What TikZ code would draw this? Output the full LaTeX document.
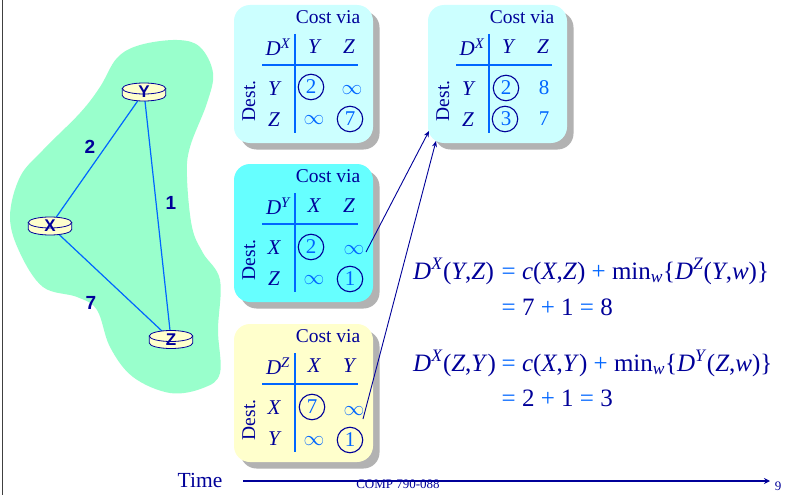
\documentclass[tikz,border=0pt]{standalone}
\usepackage{fontspec}
\setmainfont{Liberation Serif}
\newfontfamily\arialfont{Liberation Sans}
\definecolor{navy}{HTML}{000099}
\definecolor{skyb}{HTML}{0066FF}
\definecolor{cardA}{HTML}{CCFFFF}
\definecolor{cardB}{HTML}{66FFFF}
\definecolor{cardC}{HTML}{FFFFCC}
\definecolor{blobc}{HTML}{99FFCC}
\definecolor{shad}{HTML}{B2B2B2}
\tikzset{
  cardbody/.style={rounded corners=16pt,line width=0pt},
  txt/.style={inner sep=0pt,text=navy,font=\fontsize{19.5}{22}\selectfont},
  lab/.style={txt,font=\fontsize{21}{24}\selectfont\itshape},
  val/.style={inner sep=0pt,text=skyb,font=\fontsize{21}{24}\selectfont},
  rule/.style={draw=skyb,line width=1.1pt},
  ringnode/.style={circle,draw=navy,line width=1.1pt,minimum size=25.5pt,inner sep=0pt},
  routerbox/.style={inner sep=0pt,minimum width=36pt,minimum height=20pt},
  link/.style={draw=skyb,line width=1.2pt},
  rlabel/.style={inner sep=0pt,text=navy,font=\arialfont\bfseries\fontsize{17}{20}\selectfont},
  wlabel/.style={inner sep=0pt,text=navy,font=\arialfont\bfseries\fontsize{19}{22}\selectfont},
  feed/.style={draw=navy,line width=0.9pt,-{Stealth[length=6pt,width=5pt]}},
  eq/.style={inner sep=0pt,anchor=base west,text=navy,font=\fontsize{25}{28}\selectfont},
}
\usetikzlibrary{arrows.meta}
\newcommand{\costcard}[9]{%
 \begin{scope}[shift={(#2,#3)}]
  \fill[shad,cardbody] (6.5,6.5) rectangle +(139,138);
  \fill[#4,cardbody] (0,0) rectangle +(139,138);
  \node[txt] (#1via) at (94,12) {Cost via};
  \node[lab] (#1D) at (44,42) {D\textsuperscript{#5}};
  \node[lab] (#1c1) at (80,42) {#6};
  \node[lab] (#1c2) at (115,42) {#7};
  \node[lab] (#1r1) at (40,84) {#8};
  \node[lab] (#1r2) at (40,115) {#9};
  \node[txt,rotate=90] (#1dest) at (15,96) {Dest.};
  \path[rule] (61,29) -- (61,128);
  \path[rule] (28,60) -- (124,60);
 \end{scope}}
\newcommand{\cellval}[4]{\node[val] (#1) at (#2,#3) {#4};}
\newcommand{\eqD}[1]{\textit{D}\textsuperscript{\textit{#1}}}
\newcommand{\bl}[1]{\textcolor{skyb}{#1}}
\begin{document}
\begin{tikzpicture}[x=1pt,y=-1pt]
\useasboundingbox (0,0) rectangle (785,495);
\fill[white] (0,0) rectangle (785,495);
\draw[black!75,line width=1pt] (2.5,0) -- (2.5,495);
% network cloud
\fill[blobc] plot[smooth cycle,tension=0.6] coordinates {
 (177,40) (200,47) (213,73) (207,103) (190,147) (187,177) (192,227) (203,253) (220,280)
 (218,330) (220,373) (203,388) (170,393) (133,377) (110,347) (97,310) (77,297) (43,287)
 (20,253) (10,217) (20,177) (43,150) (80,113) (100,87) (117,58) (140,45)};
\node[routerbox] (X) at (50,226) {};
\node[routerbox] (Y) at (144,92) {};
\node[routerbox] (Z) at (171,339.5) {};
\path[link] (X.center) -- (Y.center);
\path[link] (Y.center) -- (Z.center);
\path[link] (X.center) -- (Z.center);
\foreach \r in {X,Y,Z}{
  \filldraw[fill=cardC,draw=navy,line width=0.8pt]
    ([xshift=-21.7pt,yshift=3.5pt]\r.center) -- ([xshift=-21.7pt,yshift=-3.5pt]\r.center)
    arc[start angle=180,end angle=360,x radius=21.7pt,y radius=5.5pt]
    -- ([xshift=21.7pt,yshift=3.5pt]\r.center) -- cycle;
  \filldraw[fill=cardC,draw=navy,line width=0.8pt] ([yshift=3.5pt]\r.center) ellipse[x radius=21.7pt,y radius=5.5pt];
}
\node[rlabel] (Xl) at (X) {X};
\node[rlabel] (Yl) at (Y) {Y};
\node[rlabel] (Zl) at (Z) {Z};
\node[wlabel] (w2) at (90,147) {2};
\node[wlabel] (w1) at (171,203) {1};
\node[wlabel] (w7) at (91,303) {7};
% cards
\costcard{a}{234}{5}{cardA}{X}{Y}{Z}{Y}{Z}
\cellval{a11}{311}{87}{2}\cellval{a12}{352}{90}{$\infty$}
\cellval{a21}{314}{120}{$\infty$}\cellval{a22}{350}{119}{7}
\node[ringnode] (ra1) at (311,87) {};
\node[ringnode] (ra2) at (350,119) {};
\costcard{b}{428}{5}{cardA}{X}{Y}{Z}{Y}{Z}
\cellval{b11}{506}{88}{2}\cellval{b12}{544}{88}{8}
\cellval{b21}{506}{119}{3}\cellval{b22}{544}{119}{7}
\node[ringnode] (rb1) at (506,88) {};
\node[ringnode] (rb2) at (505,119) {};
\costcard{c}{234}{164}{cardB}{Y}{X}{Z}{X}{Z}
\cellval{c11}{311}{247}{2}\cellval{c12}{354}{250}{$\infty$}
\cellval{c21}{314}{280}{$\infty$}\cellval{c22}{350}{279}{1}
\node[ringnode] (rc1) at (311,247) {};
\node[ringnode] (rc2) at (350,279) {};
\costcard{d}{234}{324}{cardC}{Z}{X}{Y}{X}{Y}
\cellval{d11}{312}{407}{7}\cellval{d12}{354}{411}{$\infty$}
\cellval{d21}{314}{441}{$\infty$}\cellval{d22}{350}{440}{1}
\node[ringnode] (rd1) at (312,407) {};
\node[ringnode] (rd2) at (350,440) {};
% feedback arrows
\coordinate (t1) at (366,252);
\coordinate (h1) at (429,131);
\coordinate (t2) at (363,419);
\coordinate (h2) at (436,141);
\path[feed] (t1) -- (h1);
\path[feed] (t2) -- (h2);
% equations
\node[eq] (e1) at (413,279) {\eqD{X}(\textit{Y},\textit{Z})};
\node[eq] (e2) at (501.5,279) {\bl{=} \textit{c}(\textit{X},\textit{Z}) \bl{+} min\textsubscript{\textit{w}}\{\eqD{Z}(\textit{Y},\textit{w})\}};
\node[eq] (e3) at (501.5,315) {\bl{=} 7 \bl{+} 1 \bl{=} 8};
\node[eq] (e4) at (413,371) {\eqD{X}(\textit{Z},\textit{Y})};
\node[eq] (e5) at (501.5,371) {\bl{=} \textit{c}(\textit{X},\textit{Y}) \bl{+} min\textsubscript{\textit{w}}\{\eqD{Y}(\textit{Z},\textit{w})\}};
\node[eq] (e6) at (501.5,406) {\bl{=} 2 \bl{+} 1 \bl{=} 3};
% footer
\node[inner sep=0pt,text=navy,font=\fontsize{13}{15}\selectfont] (foot) at (398,484.5) {COMP 790-088};
\node[inner sep=0pt,text=navy,font=\fontsize{13}{15}\selectfont] (page) at (778,486) {9};
\node[inner sep=0pt,text=navy,font=\fontsize{21.5}{24}\selectfont] (time) at (200,480) {Time};
\coordinate (ts) at (243,481);
\coordinate (te) at (770,481);
\path[draw=navy,line width=1.2pt,-{Stealth[length=6pt,width=6pt]}] (ts) -- (te);
\end{tikzpicture}
\end{document}
